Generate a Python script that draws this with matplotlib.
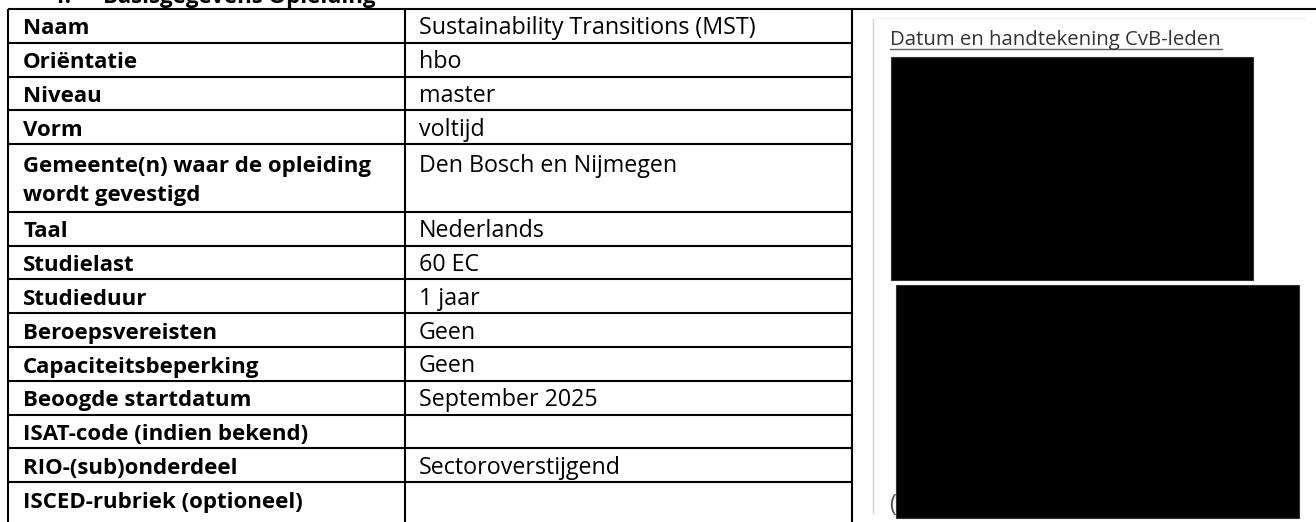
import matplotlib
matplotlib.use("Agg")
import matplotlib.pyplot as plt
from matplotlib.patches import Rectangle

# ---- data ----
section_number = "1."
section_title = "Basisgegevens Opleiding"
labels = [
    "Naam",
    "Oriëntatie",
    "Niveau",
    "Vorm",
    "Gemeente(n) waar de opleiding\nwordt gevestigd",
    "Taal",
    "Studielast",
    "Studieduur",
    "Beroepsvereisten",
    "Capaciteitsbeperking",
    "Beoogde startdatum",
    "ISAT-code (indien bekend)",
    "RIO-(sub)onderdeel",
    "ISCED-rubriek (optioneel)",
]
values = [
    "Sustainability Transitions (MST)",
    "hbo",
    "master",
    "voltijd",
    "Den Bosch en Nijmegen",
    "Nederlands",
    "60 EC",
    "1 jaar",
    "Geen",
    "Geen",
    "September 2025",
    "",
    "Sectoroverstijgend",
    "",
]
signature_heading = "Datum en handtekening CvB-leden"

# ---- layout ----
W, H = 1316, 522
fig = plt.figure(figsize=(W / 100, H / 100), dpi=100)
ax = fig.add_axes([0, 0, 1, 1])
ax.set_xlim(0, W)
ax.set_ylim(H, 0)
ax.axis("off")

FONT = ["Open Sans", "DejaVu Sans"]
renderer = fig.canvas.get_renderer()


def fit_size(text, target_px, weight="normal"):
    """font size whose rendered width equals target_px"""
    t = fig.text(0, 0, text, fontsize=10, family=FONT, fontweight=weight)
    w = t.get_window_extent(renderer).width
    t.remove()
    return 10 * target_px / w


fs_val = fit_size(values[0], 338)
fs_lab = fit_size(labels[4].split("\n")[0], 349, "bold")
fs_head = fit_size(signature_heading, 332)

top = 9
unit = 33.8
line_gap = 29
x_left, x_div, x_right = 8, 405, 852
lw = 1.5

bounds = [top]
for lab in labels:
    bounds.append(bounds[-1] + unit * (lab.count("\n") + 1))

# grid lines
ax.plot([x_left, W], [top, top], color="black", lw=lw, solid_capstyle="butt")
for yb in bounds[1:-1]:
    ax.plot([x_left, x_right], [yb, yb], color="black", lw=lw, solid_capstyle="butt")
for xv in (x_left, x_div, x_right):
    ax.plot([xv, xv], [top, H], color="black", lw=lw, solid_capstyle="butt")

# cell text
for i, (lab, val) in enumerate(zip(labels, values)):
    n_lines = lab.count("\n") + 1
    y0 = bounds[i] + 25.5 + 2.5 * (n_lines - 1)
    for k, line in enumerate(lab.split("\n")):
        ax.text(23, y0 + k * line_gap, line, fontsize=fs_lab, fontweight="bold",
                family=FONT, color="black", va="baseline", ha="left")
    if val:
        ax.text(419, y0, val, fontsize=fs_val, family=FONT, color="black",
                va="baseline", ha="left")

# cut-off section title at very top
ax.text(53, 3, section_number, fontsize=fs_lab, fontweight="bold", family=FONT,
        color="black", va="baseline", ha="left")
ax.text(103, 3, section_title, fontsize=fs_lab, fontweight="bold", family=FONT,
        color="black", va="baseline", ha="left")

# right panel (signature screenshot)
ax.plot([873, 873], [18, 513], color="#d4d4d4", lw=1)
ax.plot([873, 1305], [18, 18], color="#f0f0f0", lw=1)
ax.text(890, 45, signature_heading, fontsize=fs_head, family=FONT, color="#333333",
        va="baseline", ha="left")
ax.plot([890, 1222], [48.5, 48.5], color="#666666", lw=1)
ax.add_patch(Rectangle((891, 57), 1253 - 891, 280 - 57, facecolor="black",
                       edgecolor="#333333", lw=0.8))
ax.add_patch(Rectangle((896, 285), 1299 - 896, 518 - 285, facecolor="black",
                       edgecolor="#333333", lw=0.8))
ax.text(889, 511, "(", fontsize=fs_val, family=FONT, color="#555555",
        va="baseline", ha="left", zorder=0)

fig.savefig("out.png", dpi=100)
